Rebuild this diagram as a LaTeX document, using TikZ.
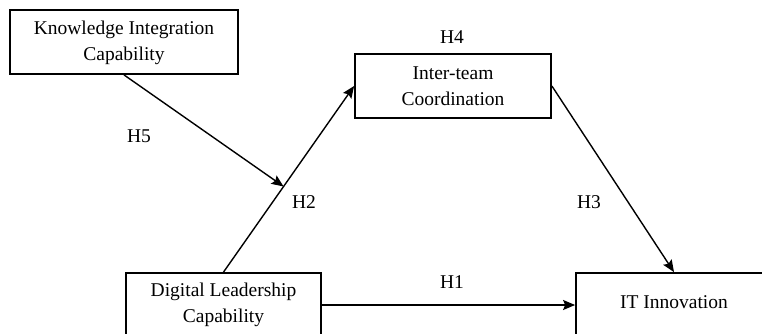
\documentclass[tikz,border=0pt]{standalone}
\usepackage{fontspec}
\setmainfont{Liberation Serif}
\usetikzlibrary{arrows.meta}
\begin{document}
\begin{tikzpicture}[x=1pt,y=-1pt,
  box/.style={draw, line width=1.8pt, minimum height=64pt, inner sep=0pt, align=center,
    font=\fontsize{19.5}{26}\selectfont},
  hyp/.style={font=\fontsize{19.5}{24}\selectfont, inner sep=0pt},
  link/.style={line width=1.4pt, -{Stealth[length=12pt,width=10pt,inset=2pt]}}]
\useasboundingbox[fill=white] (0,0) rectangle (762,333);
\node[box, minimum width=228pt] (kic) at (124,42) {\raisebox{-3pt}{\begin{tabular}{@{}c@{}}Knowledge Integration\\Capability\end{tabular}}};
\node[box, minimum width=196pt] (itc) at (453,86) {Inter-team\\Coordination};
\node[box, minimum width=195pt] (dlc) at (223.5,305) {Digital Leadership\\Capability};
\node[box, minimum width=196pt] (iti) at (674,305) {\raisebox{6pt}{IT Innovation}};
\draw[link] (dlc.north) -- coordinate[pos=0.46] (m) (itc.west);
\draw[link] (kic.south) -- (m);
\draw[link] (itc.east) -- (iti.north);
\draw[link] (dlc.east) -- (iti.west);
\node[hyp] (h4) at (452,37) {H4};
\node[hyp] (h5) at (139,136) {H5};
\node[hyp] (h2) at (304,202) {H2};
\node[hyp] (h3) at (589,202) {H3};
\node[hyp] (h1) at (452,282) {H1};
\end{tikzpicture}
\end{document}
